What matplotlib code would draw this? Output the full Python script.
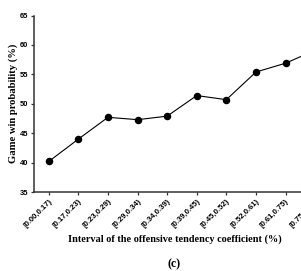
import matplotlib
matplotlib.use("Agg")
import matplotlib.pyplot as plt

categories = ["[0.00,0.17)", "[0.17,0.23)", "[0.23,0.29)", "[0.29,0.34)", "[0.34,0.39)",
              "[0.39,0.45)", "[0.45,0.52)", "[0.52,0.61)", "[0.61,0.75)", "[0.75,1.00]"]
win_prob = [40.2, 44.0, 47.7, 47.3, 47.9, 51.4, 50.7, 55.4, 56.9, 59.1]
yticks = [35, 40, 45, 50, 55, 60, 65]

fig = plt.figure(figsize=(3.01, 2.71), dpi=100)
ax = fig.add_axes([0.113, 0.2915, 0.983, 0.651])
x = list(range(len(categories)))
ax.plot(x, win_prob, color="black", lw=0.8, marker="o", ms=4.4, clip_on=False)
ax.set_xlim(-0.5, 9.5)
ax.set_ylim(35, 65)
ax.set_yticks(yticks)
ax.set_yticklabels([str(v) for v in yticks], fontsize=5.4, fontweight="bold", family="Liberation Sans")
ax.set_xticks(x)
ax.set_xticklabels(categories, rotation=45, ha="right", rotation_mode="anchor",
                   fontsize=5.6, fontweight="bold", family="Liberation Sans")
for s in ["top", "right"]:
    ax.spines[s].set_visible(False)
for s in ["left", "bottom"]:
    ax.spines[s].set_linewidth(1.1)
    ax.spines[s].set_color("#333333")
ax.tick_params(axis="both", length=2.5, width=0.9, pad=1.5, color="#333333")
ax.set_ylabel("Game win probability (%)", fontsize=7.7, fontweight="bold",
              family="Liberation Serif", labelpad=1.5)
fig.text(175 / 301, 1 - 239 / 271, "Interval of the offensive tendency coefficient (%)",
         ha="center", va="center", fontsize=7.4, fontweight="bold", family="Liberation Serif")
fig.text(174 / 301, 1 - 264 / 271, "(c)", ha="center", va="center", fontsize=8.5,
         fontweight="bold", family="Liberation Serif")
fig.savefig("out.png", dpi=100)
